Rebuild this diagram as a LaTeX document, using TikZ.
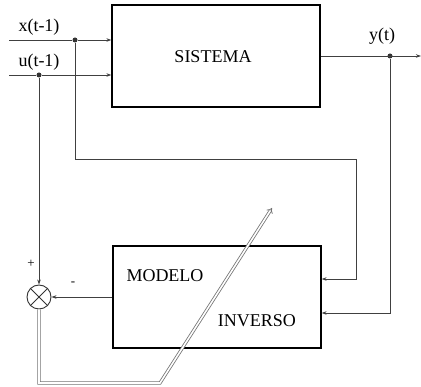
\documentclass[tikz,border=0pt]{standalone}
\usepackage{fontspec}
\setmainfont{Liberation Serif}
\usetikzlibrary{arrows.meta,positioning,calc}

\begin{document}
\begin{tikzpicture}[
    x=1pt, y=-1pt,
    >={Stealth[length=5pt,width=3.5pt]},
    font=\fontsize{18}{20}\selectfont,
    blk/.style={
        draw=black,
        line width=1.3pt,
        minimum width=208pt,
        minimum height=102pt
    },
    wire/.style={draw=black!75, line width=0.7pt},
    arr/.style={wire, ->},
    dot/.style={circle, fill=black!80, inner sep=0pt, minimum size=5pt},
    sum/.style={circle, draw=black!80, line width=0.9pt, minimum size=24pt, inner sep=0pt},
    adapt/.style={draw=black!55, double=white, double distance=1.6pt, line width=0.8pt, -{Implies}}
]
\useasboundingbox (0,0) rectangle (421,387);

% blocks
\node[blk] (sis) at (216,56) {};
\node at (213,57) {SISTEMA};
\node[blk] (mod) at (217,297) {};
\node at (165,276) {MODELO};
\node at (257,321) {INVERSO};

% inputs
\coordinate (xin) at (9,40);
\coordinate (uin) at (9,75);
\node[dot] (xdot) at (75,40) {};
\node[dot] (udot) at (39,75) {};
\node at (39,27) {x(t-1)};
\node at (39,62) {u(t-1)};
\draw[wire] (xin) -- (xdot);
\draw[wire] (uin) -- (udot);
\draw[arr] (xdot) -- (xdot -| sis.west);
\draw[arr] (udot) -- (udot -| sis.west);

% output
\coordinate (yout) at (421,56);
\node[dot] (ydot) at (390,56) {};
\node at (382,36) {y(t)};
\draw[arr] (sis.east |- yout) -- (yout);

% feedback to inverse model
\coordinate (fb) at (356,159);
\draw[arr] (xdot) |- (fb) |- ([yshift=18pt]mod.east);
\draw[arr] (ydot) |- ([yshift=-16pt]mod.east);

% comparator
\node[sum] (cmp) at (39,297) {};
\draw[black!80, line width=0.9pt] (cmp.north west) -- (cmp.south east)
    (cmp.north east) -- (cmp.south west);
\draw[arr] (udot) -- (cmp.north);
\draw[arr] (mod.west |- cmp) -- (cmp.east);
\node at (31,264) {\fontsize{13}{13}\selectfont +};
\node at (73,284) {\fontsize{13}{13}\selectfont -};

% error path
\coordinate (bend) at (160,383);
\coordinate (tip) at (272,208);
\draw[adapt] (cmp.south) |- (bend) -- (tip);

\end{tikzpicture}
\end{document}
